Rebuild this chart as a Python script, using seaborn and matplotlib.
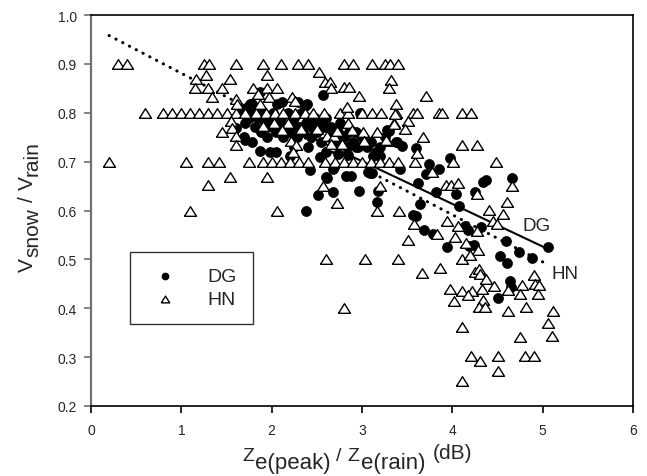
import numpy as np
import pandas as pd
import matplotlib
matplotlib.use("Agg")
import matplotlib.pyplot as plt
import seaborn as sns

# ---------------- data ----------------
hn_row90_x = [0.3, 0.4, 1.25, 1.31, 1.60, 1.90, 2.10, 2.29, 2.40, 2.80, 2.90, 3.11, 3.25, 3.31, 3.40]
hn_row80_x = [0.6, 0.8, 0.9, 1.0, 1.1, 1.2, 1.3, 1.4, 1.5, 1.6, 1.7, 1.83, 1.94, 2.04, 2.13, 2.26,
              2.37, 2.46, 2.58, 2.76, 2.85, 3.0, 3.11, 3.21, 3.38, 3.56, 3.61, 3.85, 3.89, 4.11, 4.21]
hn_row70_x = [0.2, 1.05, 1.30, 1.42, 1.75, 1.90, 2.0, 2.1, 2.2, 2.3, 2.4, 2.59, 2.70, 2.80, 2.90,
              3.0, 3.1, 3.2, 3.3, 3.4, 3.59, 4.01, 4.48]
hn_other_x = [1.16, 1.27, 1.54, 1.95, 2.52, 2.59, 2.65, 3.32, 3.71,
              1.15, 1.30, 1.45, 1.79, 1.95, 2.06, 2.66, 2.80, 2.86, 3.30,
              1.34, 1.61, 1.85, 1.97, 2.23, 2.26, 2.97, 2.83, 3.38, 1.62, 1.87,
              1.55, 1.45, 1.56, 1.61, 1.61,
              1.90, 2.03, 2.18, 2.11, 2.33, 2.50, 2.61, 2.69, 2.72, 2.85, 2.89, 3.01, 3.17, 3.28,
              2.21, 2.27, 2.78, 3.02, 2.66, 2.24, 3.35, 3.37,
              3.51, 3.35, 3.48, 3.68, 3.27, 4.11, 4.27, 3.61,
              1.54, 1.95, 1.30, 2.57, 3.2, 3.93, 3.99, 4.06, 4.66, 3.78, 4.27, 2.72,
              1.10, 2.06, 3.17, 3.41, 4.60, 4.41, 4.56, 3.94, 4.45, 4.49, 3.58, 4.06,
              4.27, 3.83, 4.03, 3.51, 4.15, 4.28, 2.60, 3.03, 3.40, 4.11, 4.20, 3.66,
              3.86, 4.25, 4.30, 4.31, 4.37, 4.90, 4.92, 4.96, 4.95, 4.77, 4.75, 4.46,
              3.97, 4.11, 4.22, 4.33, 4.17, 4.62, 4.02, 4.34, 4.30, 4.36, 4.62, 4.82,
              5.11, 5.06, 4.11, 4.75, 5.10, 4.21, 4.31, 4.51, 4.80, 4.90, 4.51, 4.11, 2.80]
hn_other_y = [0.870, 0.877, 0.869, 0.877, 0.884, 0.862, 0.862, 0.867, 0.834,
              0.850, 0.850, 0.850, 0.850, 0.850, 0.850, 0.850, 0.852, 0.852, 0.850,
              0.833, 0.828, 0.838, 0.832, 0.832, 0.824, 0.834, 0.812, 0.818, 0.818, 0.818,
              0.783, 0.760, 0.768, 0.752, 0.733,
              0.773, 0.780, 0.779, 0.765, 0.767, 0.767, 0.753, 0.753, 0.763, 0.780, 0.765, 0.761, 0.761, 0.742,
              0.742, 0.733, 0.736, 0.742, 0.736, 0.720, 0.780, 0.797,
              0.783, 0.777, 0.767, 0.750, 0.744, 0.734, 0.734, 0.718,
              0.668, 0.668, 0.652, 0.650, 0.650, 0.652, 0.652, 0.656, 0.650, 0.679, 0.634, 0.615,
              0.600, 0.600, 0.600, 0.600, 0.617, 0.601, 0.593, 0.579, 0.579, 0.572, 0.572, 0.568,
              0.558, 0.552, 0.546, 0.540, 0.533, 0.519, 0.500, 0.500, 0.500, 0.500, 0.509, 0.472,
              0.482, 0.474, 0.480, 0.470, 0.460, 0.468, 0.450, 0.448, 0.429, 0.448, 0.429, 0.445,
              0.440, 0.435, 0.435, 0.440, 0.427, 0.437, 0.415, 0.417, 0.402, 0.402, 0.394, 0.402,
              0.394, 0.370, 0.362, 0.341, 0.343, 0.302, 0.292, 0.302, 0.302, 0.302, 0.272, 0.251, 0.400]

dg_x = [2.57, 1.78, 1.87, 2.06, 2.11, 2.29, 2.37, 2.39, 1.76, 1.61, 1.70, 1.69, 1.87, 1.98, 2.20,
        2.42, 2.54, 2.69, 2.82, 2.88, 2.60, 2.51, 2.68, 2.97, 2.38, 3.09, 3.18, 3.17, 2.98, 3.28,
        3.38, 2.73, 2.85, 3.12, 3.20, 2.93, 3.07, 2.61, 2.68,
        3.30, 3.39, 3.44, 3.60, 3.42, 3.74, 3.85, 3.71, 3.97, 3.11, 3.62, 3.82, 4.04, 4.34, 4.37,
        4.66, 4.25, 3.64, 4.07, 3.56, 3.60, 3.69, 3.79, 3.94, 4.14, 4.17, 4.32, 4.18, 4.24, 4.59,
        4.74, 4.88, 4.53, 4.60, 5.06, 4.64, 4.65, 4.51,
        1.65, 1.70, 1.72, 1.75, 1.80, 1.82, 1.85, 1.88, 1.90, 1.93, 1.95, 1.98, 2.00, 2.02, 2.05,
        2.08, 2.10, 2.12, 2.15, 2.18, 2.20, 2.22, 2.25, 2.28, 2.30, 2.33, 2.35, 2.38, 2.40, 2.43,
        2.45, 2.48, 2.50, 2.53, 2.55, 2.58, 2.60, 2.63, 2.66, 2.70, 2.73, 2.76, 2.80, 2.83, 2.86,
        2.90, 2.93, 2.96, 3.00, 3.05, 3.10, 3.15, 3.20, 3.25, 1.78, 2.25, 2.40, 2.60, 2.05]
dg_y = [0.837, 0.818, 0.842, 0.818, 0.823, 0.822, 0.814, 0.818, 0.818, 0.769, 0.744, 0.750, 0.722, 0.720, 0.712,
        0.683, 0.709, 0.690, 0.671, 0.671, 0.668, 0.632, 0.638, 0.640, 0.600, 0.677, 0.640, 0.617, 0.800, 0.765,
        0.740, 0.716, 0.714, 0.711, 0.711, 0.730, 0.679, 0.666, 0.685,
        0.763, 0.740, 0.732, 0.728, 0.685, 0.695, 0.685, 0.675, 0.707, 0.677, 0.656, 0.638, 0.634, 0.658, 0.662,
        0.666, 0.638, 0.613, 0.609, 0.591, 0.589, 0.560, 0.552, 0.525, 0.568, 0.560, 0.566, 0.527, 0.529, 0.538,
        0.515, 0.503, 0.507, 0.493, 0.525, 0.456, 0.443, 0.420,
        0.800, 0.780, 0.810, 0.790, 0.800, 0.770, 0.790, 0.760, 0.800, 0.780, 0.750, 0.790, 0.770, 0.800, 0.760,
        0.780, 0.790, 0.750, 0.770, 0.800, 0.760, 0.780, 0.790, 0.750, 0.770, 0.800, 0.760, 0.780, 0.790, 0.750,
        0.770, 0.790, 0.760, 0.780, 0.740, 0.770, 0.790, 0.750, 0.770, 0.740, 0.760, 0.780, 0.750, 0.730, 0.760,
        0.740, 0.760, 0.730, 0.750, 0.730, 0.740, 0.720, 0.730, 0.750, 0.740, 0.730, 0.730, 0.720, 0.720]

# regression line end points
dg_fit_x = [1.60, 5.06]
dg_fit_y = [0.823, 0.521]
hn_fit_x = [0.20, 5.05]
hn_fit_y = [0.958, 0.490]

x_ticks = [0, 1, 2, 3, 4, 5, 6]
y_ticks = [0.2, 0.3, 0.4, 0.5, 0.6, 0.7, 0.8, 0.9, 1.0]

# axis-title pieces: (text, fontsize, baseline shift in px, gap after in px)
xlabel_pieces = [("Z", 14, 0, 1), ("e(peak)", 16, -8, 6), ("/", 14, 0, 6),
                 ("Z", 14, 0, 1), ("e(rain)", 16, -8, 7), ("(dB)", 15, 2, 0)]
ylabel_pieces = [("V", 15, 0, 1), ("snow", 15, 5, 6), ("/", 15, 0, 6),
                 ("V", 15, 0, 1), ("rain", 15, 5, 0)]

# ---------------- build frames ----------------
hn_x = hn_row90_x + hn_row80_x + hn_row70_x + hn_other_x
hn_y = [0.9] * len(hn_row90_x) + [0.8] * len(hn_row80_x) + [0.7] * len(hn_row70_x) + hn_other_y
hn = pd.DataFrame({"x": hn_x, "y": hn_y})
dg = pd.DataFrame({"x": dg_x, "y": dg_y})

sns.set_theme(style="white")
plt.rcParams["font.family"] = ["Liberation Sans", "DejaVu Sans"]

W, H = 647, 477
fig = plt.figure(figsize=(W / 100, H / 100), dpi=100)
ax = fig.add_axes([91 / W, 70 / H, 542 / W, 391 / H])

sns.lineplot(x=dg_fit_x, y=dg_fit_y, ax=ax, color="black", linewidth=1.5, zorder=1)
sns.lineplot(x=hn_fit_x, y=hn_fit_y, ax=ax, color="black", linewidth=2.2,
             linestyle=(0, (0.1, 2.4)), dash_capstyle="round", zorder=1)

sns.scatterplot(data=dg, x="x", y="y", ax=ax, marker="o", s=52, color="black",
                edgecolor="black", linewidth=0.5, label="DG", zorder=2)
tri = [(-1, -0.8), (1, -0.8), (0, 0.8), (-1, -0.8)]
sns.scatterplot(data=hn, x="x", y="y", ax=ax, marker=tri, s=75, facecolor="white",
                edgecolor="black", linewidth=1.0, label="HN", zorder=3)

ax.text(4.93, 0.57, "DG", fontsize=13.5, ha="center", va="center")
ax.text(5.25, 0.472, "HN", fontsize=13.5, ha="center", va="center")

ax.set_xlim(0, 6)
ax.set_ylim(0.2, 1.0)
ax.set_xticks(x_ticks)
ax.set_xticklabels([str(t) for t in x_ticks])
ax.set_yticks(y_ticks)
ax.set_yticklabels([f"{t:.1f}" for t in y_ticks])
ax.tick_params(axis="both", direction="out", length=5, width=1.2, labelsize=10,
               bottom=True, left=True, top=False, right=False, color="black")
ax.tick_params(axis="x", pad=7.5)
ax.tick_params(axis="y", color="#707070", pad=5)
for side in ["top", "right", "bottom"]:
    ax.spines[side].set_color("black")
    ax.spines[side].set_linewidth(1.2)
ax.spines["left"].set_color("#707070")
ax.spines["left"].set_linewidth(1.6)
ax.set_xlabel("")
ax.set_ylabel("")

leg = ax.legend(loc="lower left", bbox_to_anchor=(0.072, 0.21), frameon=True, fontsize=14,
                markerscale=0.7, handletextpad=1.2, borderpad=0.8, labelspacing=0.3,
                fancybox=False, borderaxespad=0)
leg.get_frame().set_edgecolor("black")
leg.get_frame().set_linewidth(1.0)

# ---------------- axis titles built from pieces (full-size subscripts) ----------------
renderer = fig.canvas.get_renderer()


def place_pieces(pieces, x0, y0, vertical=False):
    """x0, y0 in display pixels (origin bottom-left), at the baseline start."""
    pos = 0.0
    for text, size, shift, gap in pieces:
        if vertical:
            px, py = x0 + shift, y0 + pos
            rot = 90
        else:
            px, py = x0 + pos, y0 + shift
            rot = 0
        t = fig.text(px / W, py / H, text, fontsize=size, rotation=rot,
                     rotation_mode="anchor", ha="left", va="baseline")
        bb = t.get_window_extent(renderer)
        pos += (bb.height if vertical else bb.width) + gap


place_pieces(xlabel_pieces, 242, H - 461)
place_pieces(ylabel_pieces, 33, H - 272, vertical=True)

fig.savefig("out.png", dpi=100)
